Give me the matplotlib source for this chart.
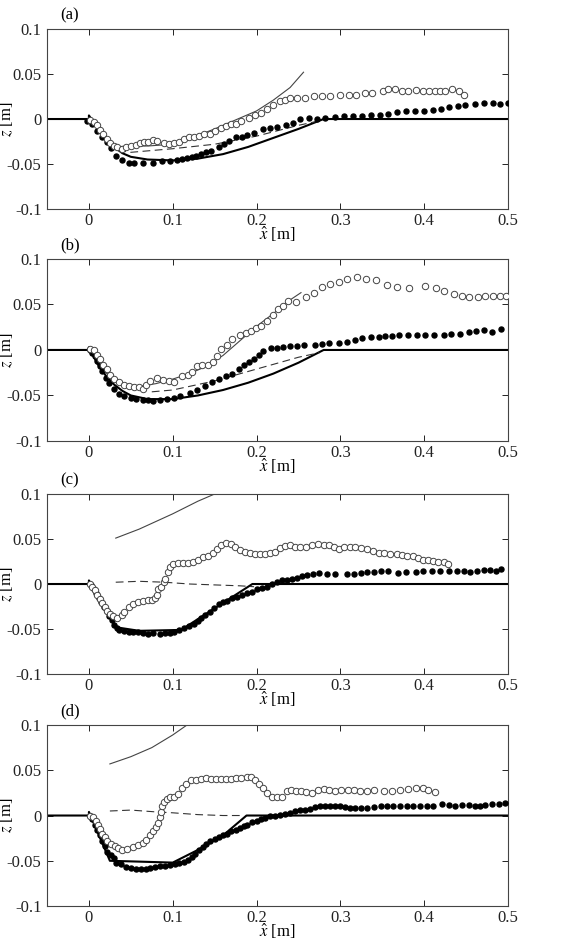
import matplotlib
matplotlib.use('Agg')
import matplotlib.pyplot as plt

plt.rcParams['font.family'] = ['Liberation Serif', 'DejaVu Serif']
plt.rcParams['mathtext.fontset'] = 'stix'
plt.rcParams['axes.unicode_minus'] = False

## (a)
a_bed_x = [-0.05, 0, 0.0, 0.01, 0.02, 0.03, 0.04, 0.05, 0.07, 0.1, 0.13, 0.16, 0.19, 0.22, 0.25, 0.28, 0.5]
a_bed_z = [0, 0, 0.004, -0.010, -0.021, -0.031, -0.038, -0.042, -0.045, -0.046, -0.044, -0.039, -0.031, -0.021, -0.011, 0, 0]
a_thin_x = [0.03, 0.05, 0.07, 0.1, 0.125, 0.15, 0.175, 0.2, 0.22, 0.24, 0.256]
a_thin_z = [-0.031, -0.030, -0.030, -0.028, -0.020, -0.011, -0.001, 0.009, 0.021, 0.035, 0.052]
a_dash_x = [0.035, 0.05, 0.1, 0.15, 0.2, 0.25, 0.27]
a_dash_z = [-0.035, -0.037, -0.033, -0.028, -0.019, -0.007, -0.003]
a_fill_x = [-0.002, 0.004, 0.010, 0.016, 0.021, 0.026, 0.032, 0.040, 0.048, 0.054, 0.064, 0.076, 0.087,
            0.097, 0.105, 0.111, 0.117, 0.123, 0.128, 0.134, 0.140, 0.146, 0.155, 0.161, 0.167, 0.175,
            0.183, 0.189, 0.197, 0.208, 0.216, 0.224, 0.235, 0.244, 0.252, 0.262, 0.272, 0.282, 0.293,
            0.304, 0.315, 0.326, 0.336, 0.347, 0.357, 0.367, 0.378, 0.389, 0.400, 0.410, 0.420, 0.430,
            0.440, 0.449, 0.461, 0.471, 0.482, 0.490, 0.500]
a_fill_z = [-0.002, -0.006, -0.013, -0.020, -0.026, -0.032, -0.041, -0.046, -0.049, -0.049, -0.049, -0.049, -0.047,
            -0.047, -0.045, -0.044, -0.043, -0.042, -0.041, -0.039, -0.037, -0.036, -0.031, -0.028, -0.024, -0.020,
            -0.020, -0.018, -0.015, -0.011, -0.010, -0.009, -0.007, -0.004, 0.000, 0.001, 0.000, 0.001, 0.002,
            0.003, 0.003, 0.003, 0.004, 0.004, 0.006, 0.008, 0.009, 0.009, 0.009, 0.010, 0.011, 0.013,
            0.014, 0.016, 0.017, 0.018, 0.018, 0.017, 0.018]
a_open_x = [0.001, 0.006, 0.010, 0.013, 0.017, 0.021, 0.025, 0.030, 0.034, 0.039, 0.044, 0.050, 0.056,
            0.061, 0.066, 0.071, 0.076, 0.081, 0.089, 0.095, 0.101, 0.107, 0.113, 0.119, 0.125, 0.131,
            0.137, 0.144, 0.151, 0.157, 0.163, 0.169, 0.175, 0.181, 0.191, 0.198, 0.205, 0.212, 0.220,
            0.228, 0.234, 0.240, 0.248, 0.258, 0.268, 0.278, 0.288, 0.299, 0.310, 0.319, 0.329, 0.338,
            0.351, 0.357, 0.365, 0.373, 0.381, 0.390, 0.398, 0.406, 0.413, 0.419, 0.425, 0.433, 0.441, 0.448]
a_open_z = [-0.001, -0.003, -0.007, -0.012, -0.017, -0.022, -0.027, -0.030, -0.031, -0.033, -0.031, -0.030, -0.029,
            -0.027, -0.026, -0.025, -0.023, -0.024, -0.027, -0.028, -0.027, -0.025, -0.022, -0.020, -0.020, -0.019,
            -0.017, -0.017, -0.013, -0.010, -0.008, -0.006, -0.005, -0.002, 0.001, 0.004, 0.007, 0.011, 0.016,
            0.020, 0.021, 0.023, 0.023, 0.023, 0.026, 0.026, 0.026, 0.027, 0.027, 0.027, 0.029, 0.029,
            0.031, 0.033, 0.033, 0.031, 0.031, 0.032, 0.031, 0.031, 0.031, 0.031, 0.031, 0.033, 0.031, 0.027]

## (b)
b_bed_x = [-0.05, 0, 0.0, 0.01, 0.02, 0.03, 0.04, 0.05, 0.07, 0.1, 0.13, 0.16, 0.19, 0.22, 0.25, 0.28, 0.5]
b_bed_z = [0, 0, 0.003, -0.015, -0.028, -0.038, -0.045, -0.050, -0.054, -0.054, -0.050, -0.044, -0.036, -0.026, -0.014, 0, 0]
b_thin_x = [0.02, 0.04, 0.06, 0.08, 0.1, 0.12, 0.14, 0.16, 0.18, 0.2, 0.22, 0.24, 0.253]
b_thin_z = [-0.025, -0.037, -0.040, -0.037, -0.032, -0.026, -0.018, -0.006, 0.010, 0.026, 0.040, 0.055, 0.063]
b_dash_x = [0.075, 0.1, 0.15, 0.2, 0.25, 0.275]
b_dash_z = [-0.046, -0.044, -0.034, -0.021, -0.008, -0.003]
b_fill_x = [0.001, 0.004, 0.007, 0.010, 0.013, 0.016, 0.020, 0.024, 0.030, 0.036, 0.042, 0.050, 0.056,
            0.064, 0.071, 0.077, 0.085, 0.093, 0.101, 0.109, 0.120, 0.129, 0.138, 0.147, 0.155, 0.163,
            0.171, 0.179, 0.185, 0.191, 0.197, 0.203, 0.208, 0.217, 0.224, 0.232, 0.240, 0.248, 0.257,
            0.270, 0.278, 0.287, 0.298, 0.308, 0.317, 0.326, 0.336, 0.346, 0.353, 0.361, 0.370, 0.381,
            0.391, 0.401, 0.412, 0.423, 0.432, 0.443, 0.453, 0.462, 0.471, 0.481, 0.491]
b_fill_z = [0.000, -0.003, -0.007, -0.012, -0.018, -0.023, -0.031, -0.036, -0.043, -0.048, -0.051, -0.053, -0.054,
            -0.055, -0.055, -0.056, -0.055, -0.054, -0.053, -0.051, -0.047, -0.044, -0.040, -0.035, -0.032, -0.029,
            -0.026, -0.021, -0.017, -0.013, -0.010, -0.006, -0.001, 0.002, 0.002, 0.003, 0.004, 0.004, 0.006,
            0.006, 0.007, 0.008, 0.008, 0.009, 0.011, 0.013, 0.014, 0.014, 0.015, 0.015, 0.016, 0.016,
            0.016, 0.016, 0.016, 0.016, 0.017, 0.018, 0.020, 0.021, 0.022, 0.020, 0.023]
b_open_x = [0.001, 0.006, 0.010, 0.013, 0.017, 0.021, 0.025, 0.030, 0.036, 0.042, 0.048, 0.054, 0.060,
            0.064, 0.068, 0.073, 0.081, 0.088, 0.095, 0.101, 0.111, 0.118, 0.123, 0.129, 0.135, 0.142,
            0.148, 0.153, 0.157, 0.165, 0.171, 0.180, 0.187, 0.193, 0.199, 0.205, 0.212, 0.220, 0.226,
            0.232, 0.238, 0.247, 0.259, 0.269, 0.278, 0.288, 0.298, 0.308, 0.320, 0.330, 0.343, 0.355,
            0.367, 0.382, 0.401, 0.414, 0.423, 0.435, 0.445, 0.454, 0.464, 0.473, 0.482, 0.490, 0.498]
b_open_z = [0.001, 0.000, -0.005, -0.010, -0.016, -0.021, -0.027, -0.032, -0.035, -0.038, -0.040, -0.041, -0.041,
            -0.043, -0.038, -0.034, -0.031, -0.033, -0.034, -0.035, -0.029, -0.028, -0.024, -0.018, -0.017, -0.016,
            -0.013, -0.007, 0.001, 0.006, 0.012, 0.016, 0.019, 0.021, 0.024, 0.026, 0.032, 0.038, 0.045,
            0.048, 0.054, 0.053, 0.058, 0.063, 0.069, 0.072, 0.075, 0.078, 0.080, 0.078, 0.077, 0.071,
            0.069, 0.068, 0.070, 0.068, 0.065, 0.062, 0.059, 0.058, 0.058, 0.059, 0.059, 0.059, 0.059]

## (c)
c_bed_x = [-0.05, 0, 0.0, 0.032, 0.06, 0.11, 0.195, 0.5]
c_bed_z = [0, 0, 0.004, -0.048, -0.052, -0.051, 0, 0]
c_thin_x = [0.032, 0.06, 0.1, 0.13, 0.15, 0.16]
c_thin_z = [0.051, 0.061, 0.078, 0.092, 0.100, 0.105]
c_dash_x = [0.032, 0.06, 0.09, 0.12, 0.15, 0.18, 0.197]
c_dash_z = [0.002, 0.003, 0.002, 0.000, -0.001, -0.002, -0.003]
c_fill_x = [0.003, 0.006, 0.009, 0.012, 0.015, 0.018, 0.021, 0.024, 0.027, 0.030, 0.033,
            0.036, 0.042, 0.048, 0.053, 0.058, 0.065, 0.071, 0.077, 0.085, 0.091, 0.097, 0.102, 0.107,
            0.113, 0.119, 0.125, 0.130, 0.134, 0.139, 0.144, 0.149, 0.155, 0.160, 0.165, 0.171, 0.177,
            0.183, 0.189, 0.195, 0.201, 0.207, 0.212, 0.218, 0.224, 0.230, 0.236, 0.242, 0.248, 0.254,
            0.260, 0.267, 0.275, 0.284, 0.294, 0.308, 0.316, 0.324, 0.332, 0.340, 0.349, 0.357, 0.369,
            0.378, 0.390, 0.399, 0.409, 0.419, 0.429, 0.439, 0.447, 0.455, 0.463, 0.471, 0.479, 0.486, 0.492]
c_fill_z = [-0.001, -0.005, -0.010, -0.015, -0.020, -0.025, -0.030, -0.035, -0.040, -0.045, -0.049,
            -0.051, -0.052, -0.053, -0.053, -0.053, -0.054, -0.055, -0.054, -0.055, -0.054, -0.054, -0.053, -0.051,
            -0.049, -0.047, -0.044, -0.041, -0.038, -0.034, -0.031, -0.027, -0.022, -0.020, -0.019, -0.016, -0.014,
            -0.012, -0.010, -0.009, -0.006, -0.004, -0.003, 0.000, 0.002, 0.004, 0.005, 0.006, 0.007, 0.009,
            0.010, 0.011, 0.012, 0.011, 0.011, 0.011, 0.011, 0.012, 0.013, 0.013, 0.014, 0.014, 0.012,
            0.013, 0.013, 0.014, 0.014, 0.014, 0.014, 0.014, 0.014, 0.013, 0.015, 0.016, 0.016, 0.015, 0.017]
c_open_x = [0.001, 0.004, 0.007, 0.010, 0.013, 0.016, 0.019, 0.022, 0.025, 0.029, 0.034, 0.039, 0.042,
            0.048, 0.053, 0.058, 0.064, 0.070, 0.075, 0.079, 0.081, 0.083, 0.086, 0.089, 0.091, 0.094,
            0.097, 0.100, 0.106, 0.112, 0.118, 0.124, 0.130, 0.136, 0.142, 0.148, 0.153, 0.158, 0.164,
            0.169, 0.174, 0.180, 0.186, 0.192, 0.198, 0.204, 0.210, 0.216, 0.222, 0.228, 0.234, 0.240,
            0.246, 0.252, 0.259, 0.266, 0.273, 0.280, 0.286, 0.292, 0.298, 0.304, 0.311, 0.318, 0.324,
            0.332, 0.339, 0.346, 0.352, 0.359, 0.367, 0.373, 0.380, 0.387, 0.393, 0.399, 0.405, 0.411,
            0.417, 0.423, 0.428]
c_open_z = [0.000, -0.003, -0.007, -0.012, -0.017, -0.021, -0.026, -0.030, -0.033, -0.036, -0.038, -0.034, -0.031,
            -0.026, -0.022, -0.020, -0.019, -0.018, -0.018, -0.016, -0.012, -0.006, -0.003, 0.002, 0.006, 0.013,
            0.019, 0.022, 0.023, 0.023, 0.023, 0.024, 0.027, 0.030, 0.031, 0.034, 0.039, 0.043, 0.046,
            0.044, 0.041, 0.038, 0.036, 0.034, 0.033, 0.033, 0.033, 0.034, 0.036, 0.040, 0.042, 0.043,
            0.041, 0.041, 0.041, 0.043, 0.044, 0.043, 0.043, 0.041, 0.039, 0.041, 0.041, 0.041, 0.040,
            0.039, 0.037, 0.035, 0.034, 0.033, 0.033, 0.032, 0.031, 0.031, 0.029, 0.027, 0.027, 0.026,
            0.025, 0.024, 0.022]

## (d)
d_bed_x = [-0.05, 0, 0.0, 0.025, 0.1, 0.13, 0.16, 0.188, 0.5]
d_bed_z = [0, 0, 0.004, -0.050, -0.052, -0.038, -0.022, 0, 0]
d_thin_x = [0.025, 0.05, 0.075, 0.1, 0.117, 0.125]
d_thin_z = [0.057, 0.065, 0.075, 0.089, 0.100, 0.106]
d_dash_x = [0.025, 0.05, 0.08, 0.1, 0.13, 0.16, 0.185]
d_dash_z = [0.005, 0.006, 0.004, 0.003, 0.001, 0.000, 0.000]
d_fill_x = [0.001, 0.004, 0.007, 0.010, 0.013, 0.016, 0.019, 0.022, 0.026, 0.030,
            0.032, 0.038, 0.044, 0.050, 0.056, 0.062, 0.068, 0.073, 0.079, 0.085, 0.091, 0.097, 0.103,
            0.108, 0.113, 0.118, 0.123, 0.127, 0.131, 0.136, 0.140, 0.145, 0.150, 0.155, 0.160, 0.165,
            0.170, 0.175, 0.180, 0.185, 0.189, 0.195, 0.200, 0.205, 0.210, 0.216, 0.222, 0.228, 0.234,
            0.240, 0.246, 0.252, 0.258, 0.264, 0.270, 0.276, 0.282, 0.288, 0.294, 0.300, 0.306, 0.312,
            0.318, 0.324, 0.332, 0.340, 0.348, 0.355, 0.363, 0.371, 0.379, 0.387, 0.395, 0.403, 0.411,
            0.421, 0.429, 0.437, 0.445, 0.453, 0.461, 0.467, 0.473, 0.481, 0.489, 0.496]
d_fill_z = [-0.001, -0.004, -0.010, -0.016, -0.022, -0.028, -0.034, -0.040, -0.044, -0.047,
            -0.052, -0.054, -0.057, -0.058, -0.059, -0.059, -0.059, -0.058, -0.057, -0.056, -0.056, -0.055, -0.054,
            -0.053, -0.051, -0.049, -0.046, -0.042, -0.038, -0.035, -0.031, -0.028, -0.026, -0.024, -0.022, -0.020,
            -0.017, -0.016, -0.014, -0.012, -0.010, -0.007, -0.006, -0.004, -0.003, -0.001, 0.000, 0.001, 0.002,
            0.003, 0.005, 0.006, 0.006, 0.007, 0.009, 0.010, 0.010, 0.010, 0.011, 0.010, 0.009, 0.008,
            0.008, 0.008, 0.008, 0.009, 0.010, 0.010, 0.011, 0.010, 0.010, 0.011, 0.010, 0.010, 0.010,
            0.013, 0.012, 0.011, 0.012, 0.012, 0.011, 0.010, 0.012, 0.013, 0.013, 0.014]
d_open_x = [0.001, 0.005, 0.008, 0.011, 0.013, 0.016, 0.019, 0.022, 0.026, 0.031, 0.035, 0.040, 0.046,
            0.052, 0.058, 0.064, 0.068, 0.073, 0.077, 0.080, 0.083, 0.085, 0.086, 0.087, 0.089, 0.093,
            0.097, 0.101, 0.106, 0.111, 0.116, 0.122, 0.128, 0.134, 0.140, 0.146, 0.152, 0.158, 0.164,
            0.170, 0.176, 0.182, 0.188, 0.193, 0.198, 0.203, 0.208, 0.212, 0.218, 0.224, 0.230, 0.236,
            0.241, 0.247, 0.253, 0.259, 0.266, 0.273, 0.280, 0.287, 0.294, 0.301, 0.309, 0.316, 0.323,
            0.332, 0.340, 0.352, 0.361, 0.371, 0.381, 0.390, 0.398, 0.405, 0.413]
d_open_z = [-0.001, -0.002, -0.006, -0.011, -0.015, -0.020, -0.024, -0.028, -0.032, -0.034, -0.036, -0.038, -0.037,
            -0.035, -0.033, -0.030, -0.027, -0.022, -0.017, -0.013, -0.008, -0.002, 0.004, 0.010, 0.015, 0.018,
            0.020, 0.021, 0.024, 0.030, 0.035, 0.039, 0.039, 0.040, 0.041, 0.040, 0.040, 0.040, 0.040,
            0.040, 0.041, 0.042, 0.043, 0.043, 0.039, 0.035, 0.030, 0.025, 0.021, 0.020, 0.021, 0.027,
            0.028, 0.027, 0.027, 0.026, 0.025, 0.028, 0.029, 0.028, 0.027, 0.028, 0.028, 0.028, 0.027,
            0.027, 0.028, 0.027, 0.027, 0.028, 0.029, 0.030, 0.030, 0.028, 0.026]

panels = [
    ('(a)', a_bed_x, a_bed_z, a_thin_x, a_thin_z, a_dash_x, a_dash_z, a_fill_x, a_fill_z, a_open_x, a_open_z),
    ('(b)', b_bed_x, b_bed_z, b_thin_x, b_thin_z, b_dash_x, b_dash_z, b_fill_x, b_fill_z, b_open_x, b_open_z),
    ('(c)', c_bed_x, c_bed_z, c_thin_x, c_thin_z, c_dash_x, c_dash_z, c_fill_x, c_fill_z, c_open_x, c_open_z),
    ('(d)', d_bed_x, d_bed_z, d_thin_x, d_thin_z, d_dash_x, d_dash_z, d_fill_x, d_fill_z, d_open_x, d_open_z),
]
xticks = [0, 0.1, 0.2, 0.3, 0.4, 0.5]
xticklabels = ['0', '0.1', '0.2', '0.3', '0.4', '0.5']
yticks = [-0.1, -0.05, 0, 0.05, 0.1]
yticklabels = ['-0.1', '-0.05', '0', '0.05', '0.1']

fig = plt.figure(figsize=(5.65, 9.39), dpi=100)
# axes rectangles in figure fraction (left, bottom, width, height)
rects = [(0.0832, 0.7774, 0.816, 0.1917),
         (0.0832, 0.5304, 0.816, 0.1938),
         (0.0832, 0.2822, 0.816, 0.1917),
         (0.0832, 0.0351, 0.816, 0.1928)]

for rect, p in zip(rects, panels):
    lab, bx, bz, tx, tz, dx, dz, fx, fz, ox, oz = p
    ax = fig.add_axes(rect)
    ax.plot(bx, bz, color='black', lw=1.5, zorder=2)
    ax.plot(tx, tz, color='#444444', lw=0.8, zorder=2)
    ax.plot(dx, dz, color='#333333', lw=0.8, ls=(0, (7, 4)), zorder=2)
    ax.plot(fx, fz, 'o', color='black', ms=3.6, zorder=3)
    ax.plot(ox, oz, 'o', mfc='white', mec='#444444', mew=0.7, ms=4.6, zorder=4)
    ax.set_xlim(-0.05, 0.5)
    ax.set_ylim(-0.1, 0.1)
    ax.set_xticks(xticks)
    ax.set_xticklabels(xticklabels)
    ax.set_yticks(yticks)
    ax.set_yticklabels(yticklabels)
    ax.tick_params(direction='in', top=True, right=True, labelsize=12,
                   length=4, width=0.7, colors='#222222')
    ax.tick_params(axis='x', pad=3)
    ax.tick_params(axis='y', pad=4)
    for s in ax.spines.values():
        s.set_color('#444444')
        s.set_linewidth(0.8)
    ax.set_xlabel(r'$\hat{x}$ [m]', fontsize=12, labelpad=-3)
    ax.set_ylabel(r'$z$ [m]', fontsize=12)
    ax.yaxis.set_label_coords(-0.07, 0.5)
    ax.text(0.05, 1.075, lab, transform=ax.transAxes, fontsize=12, ha='center', va='center')

fig.savefig('out.png', dpi=100)
